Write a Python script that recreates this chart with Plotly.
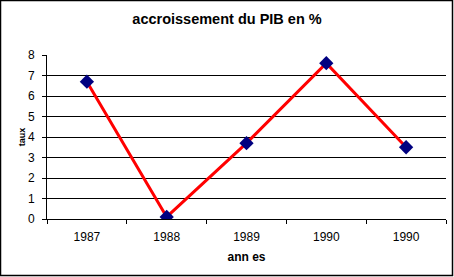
import plotly.graph_objects as go

years = ["1987", "1988", "1989", "1990", "1990"]
values = [6.7, 0.1, 3.7, 7.6, 3.5]
yticks = [0, 1, 2, 3, 4, 5, 6, 7, 8]

W, H = 454, 277
L, R, T, B = 47, 8, 55, 58
pw, ph = W - L - R, H - T - B

xpos = list(range(len(years)))

fig = go.Figure()
fig.add_trace(go.Scatter(
    x=xpos, y=values, mode="lines+markers",
    line=dict(color="#FF0000", width=3),
    marker=dict(symbol="diamond", size=11, color="#000080",
                line=dict(color="#000080", width=0)),
    showlegend=False,
))

font = "Liberation Sans, Arial, sans-serif"

fig.update_layout(
    width=W, height=H,
    margin=dict(l=L, r=R, t=T, b=B, pad=0),
    paper_bgcolor="white", plot_bgcolor="white",
    font=dict(family=font, color="black", size=12),
    title=dict(text="<b>accroissement du PIB en %</b>", x=0.5, xanchor="center",
               y=1 - 19 / H, yanchor="middle", yref="container",
               font=dict(size=14.5, family=font, color="black")),
    xaxis=dict(
        range=[-0.5, len(years) - 0.5],
        tickvals=xpos, ticktext=years, ticks="",
        showgrid=False, zeroline=False,
        showline=True, linecolor="black", linewidth=1,
        minor=dict(tick0=-0.5, dtick=1, ticks="outside", ticklen=4,
                   tickcolor="black", showgrid=False),
        ticklabelstandoff=7,
        tickfont=dict(size=12),
        title=dict(text="<b>ann es</b>", standoff=9,
                   font=dict(size=12, family=font)),
        fixedrange=True,
    ),
    yaxis=dict(
        range=[0, 8], tickvals=yticks, ticks="outside", ticklen=4,
        tickcolor="black",
        showgrid=True, gridcolor="black", gridwidth=1,
        zeroline=False, showline=True, linecolor="black", linewidth=1,
        ticklabelstandoff=5,
        tickfont=dict(size=12),
        title=dict(text="<b>taux</b>", standoff=0,
                   font=dict(size=9, family=font)),
        fixedrange=True,
    ),
)

# outer border of the chart
fig.add_shape(type="rect", xref="paper", yref="paper",
              x0=(0.5 - L) / pw, x1=(452.5 - L) / pw,
              y0=(H - B - 275.5) / ph, y1=(H - B - 0.5) / ph,
              line=dict(color="black", width=1.5), fillcolor="rgba(0,0,0,0)",
              layer="above")

fig.write_html("out.html")
